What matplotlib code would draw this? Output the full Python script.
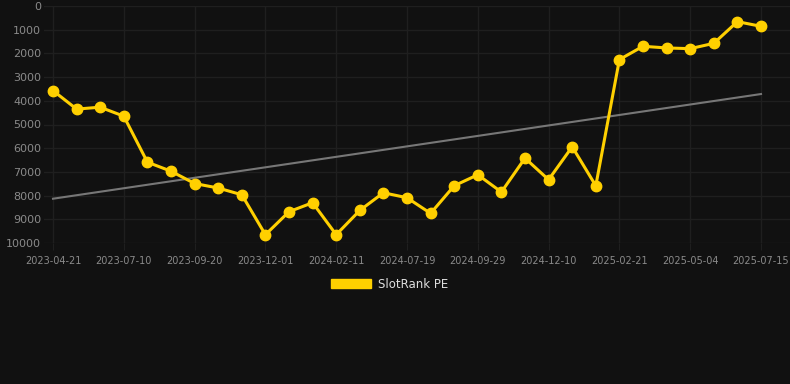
import matplotlib
matplotlib.use("Agg")
import matplotlib.pyplot as plt
import numpy as np
from matplotlib.patches import Patch

tick_labels = ["2023-04-21", "2023-07-10", "2023-09-20", "2023-12-01", "2024-02-11",
               "2024-07-19", "2024-09-29", "2024-12-10", "2025-02-21", "2025-05-04",
               "2025-07-15"]
values = [3570, 4350, 4270, 4650, 6590, 6970, 7490, 7680, 7965, 9650,
          8680, 8300, 9650, 8625, 7880, 8090, 8750, 7585, 7120, 7850,
          6420, 7330, 5940, 7585, 2260, 1700, 1770, 1800, 1575, 660, 857]
series_name = "SlotRank PE"

bg = "#111111"
grid_c = "#1f1f1f"
txt_c = "#8a8a8a"
yellow = "#FFD000"

fig = plt.figure(figsize=(7.9, 3.84), dpi=100, facecolor=bg)
ax = fig.add_axes([44/790, (384-243)/384, (790-44)/790, (243-6)/384])
ax.set_facecolor(bg)

x = np.arange(len(values))
y = np.array(values, dtype=float)

# trend line (linear regression)
k, b = np.polyfit(x, y, 1)
ax.plot([x[0], x[-1]], [k*x[0]+b, k*x[-1]+b], color="#777777", lw=1.5, zorder=2)

ax.plot(x, y, color=yellow, lw=2.2, marker="o", ms=7.5, zorder=3)

ax.set_ylim(10000, 0)
ax.set_yticks(np.arange(0, 10001, 1000))
ax.set_xlim((44-53)/23.6, (790-53)/23.6)
ax.set_xticks(x[::3])
ax.set_xticklabels(tick_labels)

ax.grid(True, color=grid_c, lw=1.0)
ax.set_axisbelow(True)
for s in ax.spines.values():
    s.set_visible(False)
ax.tick_params(axis="y", length=0, colors=txt_c, labelsize=8, pad=2)
ax.tick_params(axis="x", length=5, color=grid_c, colors=txt_c, labelsize=7, pad=4)

leg = fig.legend(handles=[Patch(facecolor=yellow, edgecolor=yellow, label=series_name)],
                 loc="center", bbox_to_anchor=(390/790, 1-284/384), frameon=False,
                 handlelength=3.4, handleheight=0.9, fontsize=8.5, labelcolor="#dddddd",
                 handletextpad=0.6)

fig.savefig("out.png", dpi=100, facecolor=bg)
